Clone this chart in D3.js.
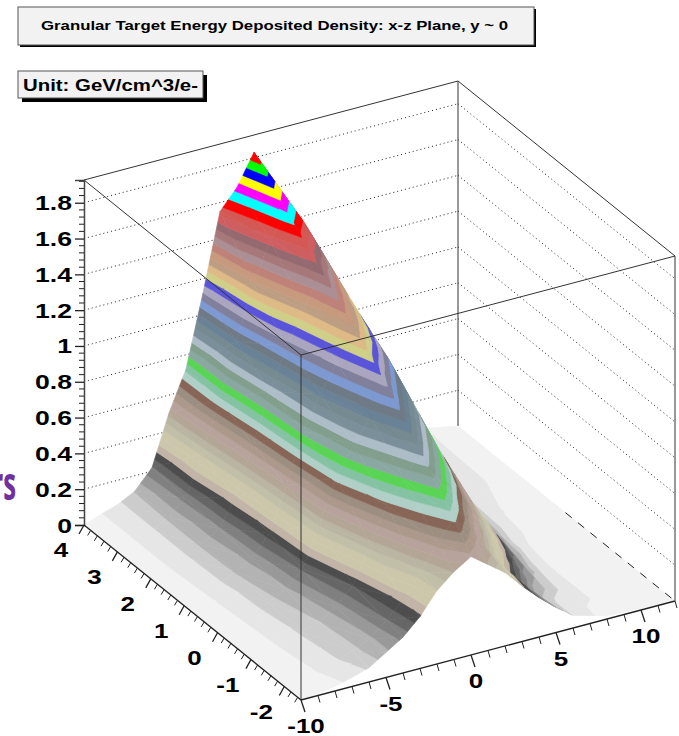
<!DOCTYPE html>
<html>
<head>
<meta charset="utf-8">
<style>
  html, body { margin: 0; padding: 0; background: #fff; }
  svg { display: block; }
  text { font-family: "Liberation Sans", Arial, sans-serif; font-weight: bold; fill: #000; }
</style>
<script src="https://cdn.jsdelivr.net/npm/d3@7"></script>
</head>
<body>
<div id="chart"></div>
<script>
// Values

// Grid nodes of the surface
var xNodes = [-10, -9, -8, -7, -6, -5, -4, -3, -2, -1, 0, 1, 2, 3, 4, 5, 6, 7, 8, 9, 10, 12];
var yNodes = [4, 3, 2, 1, 0, -1, -2, -2.5];

// Deposited density at each x node, one list per y node
var zAtY4 = [0, 0.035, 0.065, 0.115, 0.22, 0.5, 0.72, 1.12, 1.55, 1.66, 1.83, 1.67, 1.51, 1.2, 0.85, 0.55, 0.3, 0.15, 0.07, 0.05, 0.038, 0];
var zAtY3 = [0, 0.035, 0.065, 0.12, 0.2, 0.42, 0.7, 1.0, 1.3, 1.52, 1.64, 1.56, 1.38, 1.08, 0.78, 0.5, 0.28, 0.14, 0.07, 0.05, 0.036, 0];
var zAtY2 = [0, 0.035, 0.065, 0.12, 0.18, 0.33, 0.6, 0.87, 1.1, 1.28, 1.47, 1.36, 1.22, 0.95, 0.72, 0.45, 0.25, 0.13, 0.07, 0.045, 0.035, 0];
var zAtY1 = [0, 0.03, 0.06, 0.115, 0.16, 0.28, 0.52, 0.8, 0.98, 1.13, 1.3, 1.2, 1.08, 0.88, 0.62, 0.38, 0.22, 0.12, 0.05, 0.035, 0.025, 0];
var zAtY0 = [0, 0.025, 0.055, 0.095, 0.14, 0.23, 0.46, 0.69, 0.85, 0.98, 1.12, 1.0, 0.88, 0.7, 0.5, 0.32, 0.18, 0.09, 0.04, 0.03, 0.02, 0];
var zAtYm1 = [0, 0.02, 0.05, 0.08, 0.11, 0.17, 0.26, 0.47, 0.66, 0.78, 0.91, 0.8, 0.68, 0.52, 0.38, 0.25, 0.13, 0.07, 0.036, 0.025, 0.015, 0];
var zAtYm2 = [0, 0.015, 0.04, 0.07, 0.1, 0.14, 0.22, 0.31, 0.43, 0.58, 0.68, 0.59, 0.46, 0.33, 0.22, 0.12, 0.07, 0.05, 0.037, 0.02, 0.01, 0];
var zAtYm25 = [0, 0.01, 0.025, 0.05, 0.08, 0.14, 0.2, 0.29, 0.41, 0.49, 0.55, 0.48, 0.41, 0.31, 0.22, 0.14, 0.07, 0.045, 0.017, 0.012, 0.008, 0];
var zRows = [zAtY4, zAtY3, zAtY2, zAtY1, zAtY0, zAtYm1, zAtYm2, zAtYm25];

// Contour colours, lowest band first
var bandColors = [
  "#f2f2f2", "#e6e6e6", "#cccccc", "#b3b3b3", "#999999", "#808080", "#666666", "#4d4d4d",
  "#c2b4a6", "#ccc7ab", "#ccc7ab", "#c2bfa8", "#bab5a3", "#b3a696", "#b8a39c", "#ad998c",
  "#9c8f82", "#876657", "#b0cfc7", "#85c2a3", "#59d454", "#8aa8a1", "#829e8c", "#adbdc7",
  "#7a8f99", "#758a91", "#698296", "#6e7a85", "#7d99d1", "#80809c", "#aba6bf", "#5954d9",
  "#cfcf87", "#deba87", "#bd9e82", "#c7997d", "#bf8278", "#ab8f94", "#a6787a", "#946970",
  "#cf5e61", "#d45954", "#ff0000", "#00ffff", "#ff00ff", "#ffff00", "#0000ff", "#00ff00", "#ff0000"
];
var zTop = 1.83;

var xMajor = [-10, -5, 0, 5, 10];
var yMajor = [-2, -1, 0, 1, 2, 3, 4];
var zMajor = [0, 0.2, 0.4, 0.6, 0.8, 1, 1.2, 1.4, 1.6, 1.8];

var titleText = "Granular Target Energy Deposited Density: x-z Plane, y ~ 0";
var unitText = "Unit: GeV/cm^3/e-";

var width = 679;
var height = 736;

var svg = d3.select("#chart").append("svg").attr("width", width).attr("height", height);

// Oblique projection, built from the three axis directions
var xMin = -10, xMax = 12, yMin = -2.5, yMax = 4, zMax = 1.927;
var xToLeft = d3.scaleLinear().domain([xMin, xMax]).range([301, 675]);
var xToTop = d3.scaleLinear().domain([xMin, xMax]).range([700, 601]);
var yToLeft = d3.scaleLinear().domain([yMin, yMax]).range([0, -217]);
var yToTop = d3.scaleLinear().domain([yMin, yMax]).range([0, -175]);
var zToTop = d3.scaleLinear().domain([0, zMax]).range([0, -345]);

function project(x, y, z) {
  return [xToLeft(x) + yToLeft(y), xToTop(x) + yToTop(y) + zToTop(z)];
}

var line = d3.line();

function seg(g, a, b) {
  return g.append("path").attr("d", line([project.apply(null, a), project.apply(null, b)])).attr("fill", "none");
}

// Walls behind the surface
var walls = svg.append("g");
zMajor.filter(function(z) { return z > 0; }).forEach(function(z) {
  [[[xMin, yMax, z], [xMax, yMax, z]], [[xMax, yMax, z], [xMax, yMin, z]]].forEach(function(p) {
    seg(walls, p[0], p[1]).attr("stroke", "#222").attr("stroke-width", 1).attr("stroke-dasharray", "1 3");
  });
});
seg(walls, [xMin, yMax, zMax], [xMax, yMax, zMax]).attr("stroke", "#333");
seg(walls, [xMax, yMax, zMax], [xMax, yMin, zMax]).attr("stroke", "#333");
seg(walls, [xMax, yMax, 0], [xMax, yMax, zMax]).attr("stroke", "#333");
seg(walls, [xMax, yMin, 0], [xMax, yMin, zMax]).attr("stroke", "#777").attr("stroke-width", 1.5);

// Cut a triangle down to one contour band
function clipBand(poly, lo, hi) {
  function cut(pts, inside, level) {
    var out = [];
    pts.forEach(function(p, i) {
      var q = pts[(i + 1) % pts.length];
      if (inside(p[2])) out.push(p);
      if (inside(p[2]) !== inside(q[2])) {
        var t = (level - p[2]) / (q[2] - p[2]);
        out.push([p[0] + t * (q[0] - p[0]), p[1] + t * (q[1] - p[1]), level]);
      }
    });
    return out;
  }
  var res = cut(poly, function(z) { return z >= lo; }, lo);
  if (res.length) res = cut(res, function(z) { return z <= hi; }, hi);
  return res;
}

var bandStep = zTop / bandColors.length;

// Paint from the far corner towards the viewer
var pieces = [];
function addTriangle(tri) {
  var zs = tri.map(function(p) { return p[2]; });
  var first = Math.min(bandColors.length - 1, Math.floor(d3.min(zs) / bandStep));
  var last = Math.min(bandColors.length - 1, Math.floor(d3.max(zs) / bandStep));
  for (var b = first; b <= last; b++) {
    var hi = b === bandColors.length - 1 ? Infinity : (b + 1) * bandStep;
    var poly = clipBand(tri, b * bandStep, hi);
    if (poly.length > 2) pieces.push({ band: b, poly: poly });
  }
}
for (var i = xNodes.length - 2; i >= 0; i--) {
  for (var j = 0; j < yNodes.length - 1; j++) {
    var x0 = xNodes[i], x1 = xNodes[i + 1], yBack = yNodes[j], yFront = yNodes[j + 1];
    var backLeft = [x0, yBack, zRows[j][i]];
    var backRight = [x1, yBack, zRows[j][i + 1]];
    var frontLeft = [x0, yFront, zRows[j + 1][i]];
    var frontRight = [x1, yFront, zRows[j + 1][i + 1]];
    addTriangle([backRight, backLeft, frontRight]);
    addTriangle([backLeft, frontLeft, frontRight]);
  }
}

var closedLine = d3.line().curve(d3.curveLinearClosed);
svg.append("g").selectAll("path")
  .data(pieces)
  .join("path")
  .attr("d", function(d) {
    return closedLine(d.poly.map(function(p) { return project(p[0], p[1], p[2]); }));
  })
  .attr("fill", function(d) { return bandColors[d.band]; })
  .attr("stroke", function(d) { return bandColors[d.band]; })
  .attr("stroke-width", 0.6);

// Frame lines in front of the surface
var front = svg.append("g");
seg(front, [xMin, yMax, zMax], [xMin, yMin, zMax]).attr("stroke", "#333");
seg(front, [xMin, yMin, zMax], [xMax, yMin, zMax]).attr("stroke", "#333");
seg(front, [xMin, yMin, 0], [xMin, yMin, zMax]).attr("stroke", "#333");
seg(front, [xMax, 0.78, 0], [xMax, yMin, 0]).attr("stroke", "#222").attr("stroke-dasharray", "8 8");

// z axis
var zAxisScale = d3.scaleLinear().domain([0, zMax]).range([525, 180]);
var zMinor = d3.range(0, 1.921, 0.04).filter(function(z) {
  return !zMajor.some(function(m) { return Math.abs(m - z) < 1e-6; });
});
var zAxisG = svg.append("g").attr("transform", "translate(84,0)");
zAxisG.call(d3.axisLeft(zAxisScale).tickValues(zMajor).tickSizeOuter(0).tickSize(9).tickPadding(0)
  .tickFormat(function(d) { return String(d); }));
zAxisG.select(".domain").attr("stroke", "#444").attr("stroke-width", 1.5);
zAxisG.selectAll(".tick line").attr("stroke", "#222").attr("stroke-width", 1.3);
zAxisG.selectAll(".tick text")
  .attr("x", null).attr("dy", null)
  .attr("text-anchor", "end")
  .attr("font-size", 20)
  .attr("transform", "translate(-12,7) scale(1.33,1)");
zAxisG.append("g").selectAll("line").data(zMinor).join("line")
  .attr("x1", -5).attr("x2", 0)
  .attr("y1", function(d) { return zAxisScale(d); })
  .attr("y2", function(d) { return zAxisScale(d); })
  .attr("stroke", "#222").attr("stroke-width", 1);

// Oblique axes, ticks and labels
var axes = svg.append("g");
seg(axes, [xMin, yMin, 0], [xMax, yMin, 0]).attr("stroke", "#222").attr("stroke-width", 1.3);
seg(axes, [xMin, yMin, 0], [xMin, yMax, 0]).attr("stroke", "#222").attr("stroke-width", 1.3);

function drawTicks(values, place, dx, dy, w) {
  axes.append("g").selectAll("line").data(values).join("line")
    .attr("x1", function(d) { return place(d)[0]; })
    .attr("y1", function(d) { return place(d)[1]; })
    .attr("x2", function(d) { return place(d)[0] + dx; })
    .attr("y2", function(d) { return place(d)[1] + dy; })
    .attr("stroke", "#222").attr("stroke-width", w);
}
function drawLabels(values, place, dx, dy) {
  axes.append("g").selectAll("text").data(values).join("text")
    .attr("text-anchor", "middle")
    .attr("font-size", 20)
    .attr("transform", function(d) {
      return "translate(" + (place(d)[0] + dx) + "," + (place(d)[1] + dy) + ") scale(1.3,1)";
    })
    .text(function(d) { return d; });
}
function onXAxis(x) { return project(x, yMin, 0); }
function onYAxis(y) { return project(xMin, y, 0); }

var xTicks = d3.range(-10, 12.01, 1);
var yTicks = d3.range(-2.4, 4.01, 0.2);
drawTicks(xTicks.filter(function(d) { return d % 5 !== 0; }), onXAxis, 2, 7, 1);
drawTicks(xMajor, onXAxis, 4, 12, 1.3);
drawTicks(yTicks.filter(function(d) { return Math.abs(d - Math.round(d)) > 1e-6; }), onYAxis, -3, 5, 1);
drawTicks(yMajor, onYAxis, -5, 9, 1.3);
drawLabels(xMajor, onXAxis, 5, 33);
drawLabels(yMajor, onYAxis, -23, 32);

// Title boxes
function titleBox(x, y, w, h, shadow, label, textX, textBase, textLen, size) {
  var g = svg.append("g");
  g.append("rect").attr("x", x + shadow).attr("y", y + shadow).attr("width", w).attr("height", h).attr("fill", "#000");
  g.append("rect").attr("x", x).attr("y", y).attr("width", w).attr("height", h)
    .attr("fill", "#f2f2f2").attr("stroke", "#555").attr("stroke-width", 1);
  g.append("text").attr("x", textX).attr("y", textBase)
    .attr("font-size", size)
    .attr("textLength", textLen).attr("lengthAdjust", "spacingAndGlyphs")
    .text(label);
}
titleBox(18, 7, 516, 38, 2, titleText, 41, 30, 467, 12.5);
titleBox(18, 71, 185, 27, 4, unitText, 23, 91, 175, 16.5);

// Stray purple letters at the left edge of the image
svg.append("text")
  .attr("text-anchor", "end")
  .attr("font-size", 47)
  .attr("transform", "translate(16,500) scale(0.55,1)")
  .style("font-family", "'Open Sans', sans-serif")
  .style("fill", "#7030a0")
  .text("rs");
</script>
</body>
</html>
